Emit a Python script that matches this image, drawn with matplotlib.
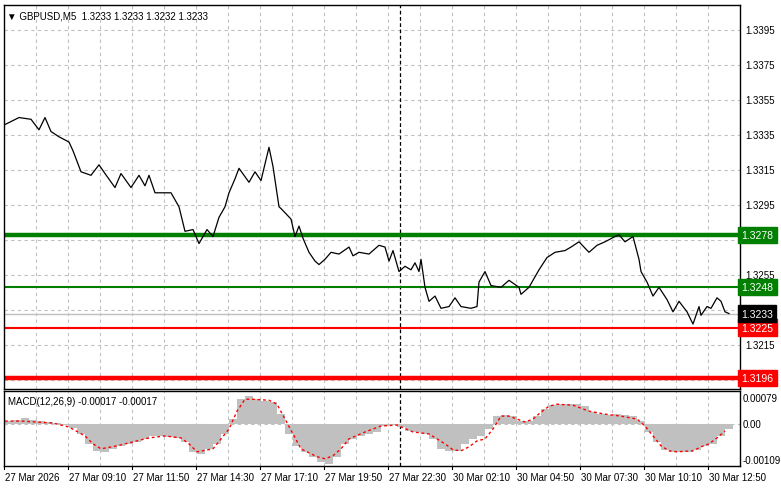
import matplotlib
matplotlib.use('Agg')
import matplotlib.pyplot as plt
import numpy as np

plt.rcParams['font.family'] = ['Liberation Sans', 'DejaVu Sans']

# ---- price line (bar index, close) ----
price_bar = [0, 7, 13, 17, 20, 23, 27, 32, 34, 36, 38, 43, 47, 50, 55, 58, 63, 67, 70, 72,
             75, 83, 87, 90, 94, 97, 101, 104, 107, 110, 112, 115, 117, 122, 125, 128, 132, 134, 137, 138,
             143, 145, 147, 149,
             152, 155, 157, 160, 163, 167, 172, 174, 177, 182, 187, 190, 192, 194, 197, 200, 203, 205, 207, 208,
             210, 212, 215, 218, 222, 225, 228, 233, 236, 237, 240, 243, 248, 252, 257, 258, 262, 267, 271, 275,
             280, 283, 287, 292, 296, 300, 305, 307, 310, 314, 317, 318, 321, 324, 327, 331, 334, 337, 341, 344,
             347, 348, 351, 353, 356, 358, 360, 362]
price = [1.3341, 1.3345, 1.3344, 1.3338, 1.3345, 1.3337, 1.3334, 1.3331, 1.3326, 1.3320, 1.3314, 1.3312,
         1.3318, 1.3313, 1.3305, 1.3313, 1.3305, 1.3312, 1.3306, 1.3312, 1.3302, 1.3302, 1.3294, 1.3280,
         1.3281, 1.3273, 1.3281, 1.3277, 1.3288, 1.3294, 1.3302, 1.3310, 1.3316, 1.3308, 1.3314, 1.3309,
         1.3328, 1.3317, 1.3294, 1.3293, 1.3287, 1.3277, 1.3283, 1.3276,
         1.3268, 1.3263, 1.3261, 1.3264, 1.3268, 1.3267, 1.3271, 1.3266, 1.3268, 1.3267, 1.3272, 1.3271,
         1.3263, 1.3269, 1.3257, 1.3260, 1.3258, 1.3262, 1.3257, 1.3264, 1.3248, 1.3240, 1.3243, 1.3236,
         1.3237, 1.3242, 1.3237, 1.3236, 1.3237, 1.3251, 1.3257, 1.3249, 1.3248, 1.3252, 1.3248, 1.3244,
         1.3248, 1.3258, 1.3265, 1.3268, 1.3269, 1.3271, 1.3274, 1.3268, 1.3272, 1.3274, 1.3277, 1.3278,
         1.3274, 1.3277, 1.3264, 1.3257, 1.3251, 1.3243, 1.3248, 1.3241, 1.3234, 1.3240, 1.3234, 1.3227,
         1.3237, 1.3232, 1.3237, 1.3236, 1.3242, 1.3240, 1.3234, 1.3233]

# ---- MACD histogram (every 4 bars, units 1e-5) ----
hist_vals = [9, 12, 18, 12, 9, 6, 3, -3, -12, -30, -60, -81, -84, -75, -66, -60, -54, -45, -36, -36,
             -39, -42, -54, -84, -90, -75, -60, -30, 15, 75, 84, 75, 69, 66, 30, -30, -66, -84, -99, -114,
             -120, -99, -60, -45, -36, -30, -24, -6, -3, -9,
             -21, -24, -30, -45, -75, -81, -81, -60, -45, -36, -15, 24, 27, 24, 9, 9, 24, 45, 57, 60,
             60, 60, 54, 36, 30, 27, 30, 27, 24, 9, -24, -54, -78, -84, -84, -84, -78, -66, -60, -36, -15]
sig_bar = [0, 8, 16, 24, 32, 40, 44, 48, 56, 64, 72, 80, 88, 92, 96, 104, 108, 112, 116, 120, 124,
           132, 136, 140, 144, 148, 156, 160, 164, 168, 172, 180, 188, 196, 204, 212, 220, 224, 228, 232, 236,
           240, 244, 248, 252, 256, 260, 264, 268, 272, 276, 284, 292, 300, 308, 316, 320, 324, 328, 332, 336,
           344, 348, 352, 356, 360]
sig_vals = [9, 9, 6, 3, -9, -36, -60, -75, -66, -54, -42, -36, -42, -60, -84, -75, -45, -15, 39, 75, 75,
            72, 60, 15, -30, -75, -99, -105, -96, -75, -45, -24, -6, -3, -24, -30, -60, -78, -81, -69, -51,
            -45, -15, 24, 24, 15, 6, 15, 36, 54, 60, 57, 39, 30, 24, 15, -6, -36, -66, -81, -84,
            -81, -69, -60, -42, -21]

levels = [(1.3278, '#007f00', 3.2), (1.3248, '#007f00', 1.5),
          (1.3225, '#ff0000', 1.5), (1.3196, '#ff0000', 3.2)]
last_price = 1.3233
price_ticks = [1.3395, 1.3375, 1.3355, 1.3335, 1.3315, 1.3295, 1.3275, 1.3255, 1.3215]
time_bars = [0, 32, 64, 96, 128, 160, 192, 224, 256, 288, 320, 352]
time_labels = ['27 Mar 2026', '27 Mar 09:10', '27 Mar 11:50', '27 Mar 14:30', '27 Mar 17:10',
               '27 Mar 19:50', '27 Mar 22:30', '30 Mar 02:10', '30 Mar 04:50', '30 Mar 07:30',
               '30 Mar 10:10', '30 Mar 12:50']

W, H = 781, 489
fig = plt.figure(figsize=(W / 100, H / 100), dpi=100)
fig.patch.set_facecolor('white')


def rect(l, t, r, b):
    return [l / W, 1 - b / H, (r - l) / W, (b - t) / H]


ax = fig.add_axes(rect(4, 6, 740, 390))
mx = fig.add_axes(rect(4, 392, 740, 467))
XMIN, XMAX = -0.5, 367.5
grid_x = np.arange(15.5, 368, 16)

for a in (ax, mx):
    a.set_xlim(XMIN, XMAX)
    for s in a.spines.values():
        s.set_color('black')
        s.set_linewidth(1)
    a.tick_params(left=False, bottom=False, right=False, labelleft=False, labelbottom=False)
    for gx in grid_x:
        a.axvline(gx, color='#c0c0c0', lw=0.8, ls=(0, (3, 3)), zorder=0)
    a.axvline(197.5, color='black', lw=0.9, ls=(0, (3, 2)), zorder=1)

FS = 7

# main panel
ax.set_ylim(1.31899, 1.34093)
for p in np.arange(1.3195, 1.3400, 0.0020):
    ax.axhline(p, color='#c0c0c0', lw=0.8, ls=(0, (3, 3)), zorder=0)
ax.axhline(last_price, color='#c0c0c0', lw=1, zorder=1)
for lv, col, lw in levels:
    ax.axhline(lv, color=col, lw=lw, zorder=2)
ax.plot(price_bar, price, color='black', lw=0.9, zorder=3)

for p in price_ticks:
    ax.text(1.007, p, f'{p:.4f}', transform=ax.get_yaxis_transform(), fontsize=FS,
            va='center', ha='left', color='black', zorder=4)
for lv, col, lw in levels + [(last_price, 'black', 0)]:
    ax.text(1.002, lv, f'{lv:.4f}', transform=ax.get_yaxis_transform(), fontsize=FS + 0.5,
            va='center', ha='left', color='white', zorder=6,
            bbox=dict(boxstyle='square,pad=0.3', fc=col, ec=col))
ax.text(0.004, 0.985, '▼ GBPUSD,M5  1.3233 1.3233 1.3232 1.3233', transform=ax.transAxes,
        fontsize=FS, va='top', ha='left')

# MACD panel
mx.set_ylim(-0.00127, 0.00100)
hb = np.arange(len(hist_vals)) * 4
hv = np.array(hist_vals) * 1e-5
mx.bar(hb, hv, width=4, color='#c0c0c0', align='edge', zorder=1)
mx.axhline(0, color='#c0c0c0', lw=0.8, ls=(0, (3, 3)), zorder=0)
mx.plot(sig_bar, np.array(sig_vals) * 1e-5, color='red', lw=1, ls=(0, (2, 2)), zorder=3)
for v, s in [(0.00079, '0.00079'), (0.0, '0.00'), (-0.00109, '-0.00109')]:
    mx.text(1.004, v, s, transform=mx.get_yaxis_transform(), fontsize=FS, va='center', ha='left')
mx.text(0.006, 0.93, 'MACD(12,26,9) -0.00017 -0.00017', transform=mx.transAxes,
        fontsize=FS, va='top', ha='left')

for b, lab in zip(time_bars, time_labels):
    xb = b - 0.5
    mx.annotate(lab, xy=(xb, 0), xycoords=('data', 'axes fraction'),
                xytext=(1, -4), textcoords='offset points', fontsize=FS, va='top', ha='left',
                annotation_clip=False)
    mx.plot([xb, xb], [0, -0.035], transform=mx.get_xaxis_transform(), color='black',
            lw=0.8, clip_on=False)

fig.savefig('out.png', dpi=100)
